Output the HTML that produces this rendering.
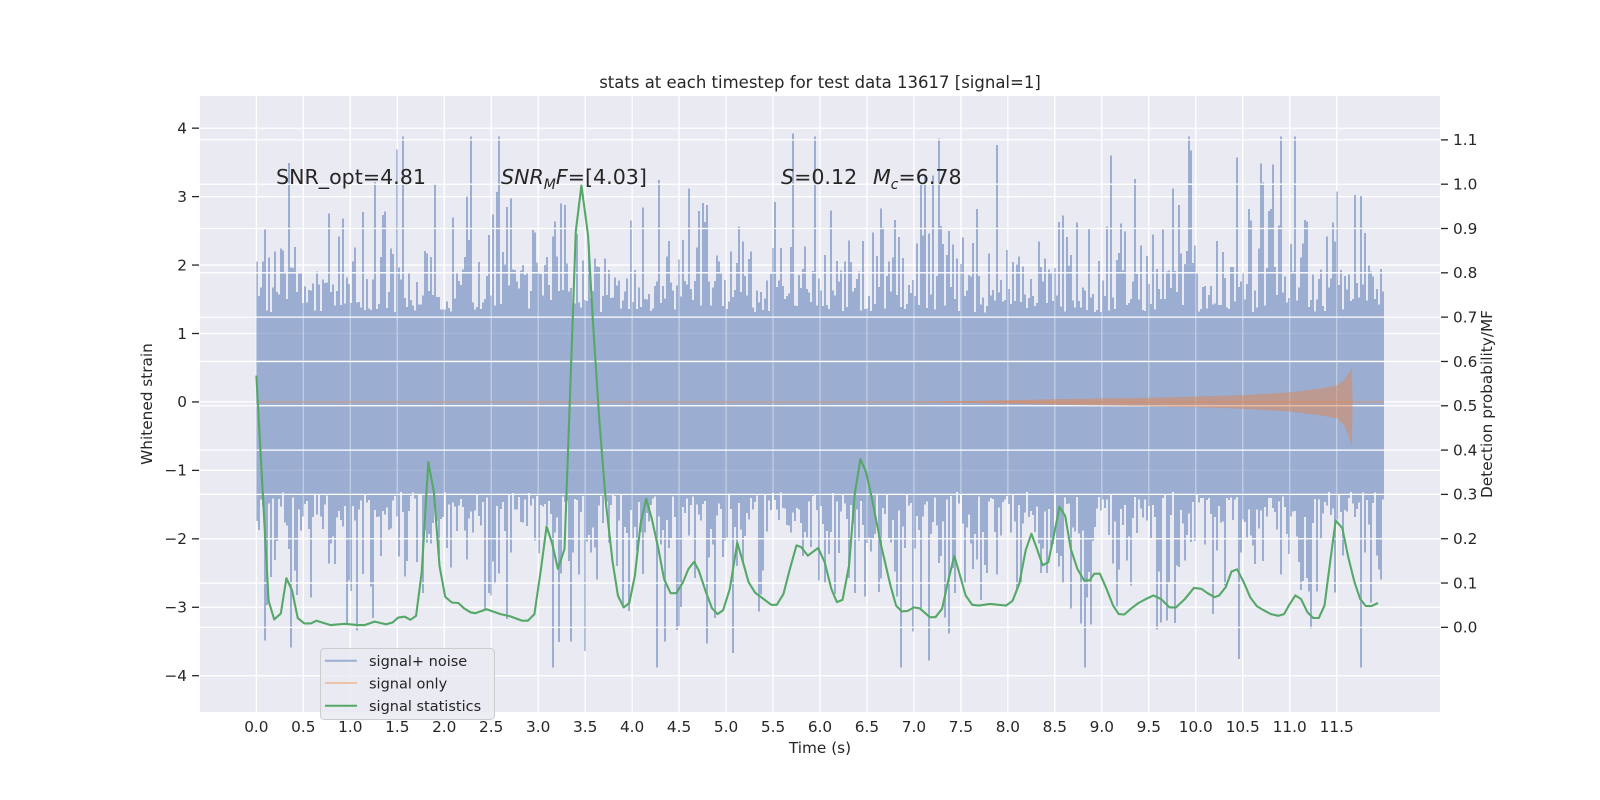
<!DOCTYPE html>
<html><head><meta charset="utf-8"><title>stats at each timestep</title>
<style>
html,body{margin:0;padding:0;background:#fff;}
svg{display:block;font-family:"DejaVu Sans","Liberation Sans",sans-serif;}
</style></head>
<body>
<svg id="chart" width="1600" height="800" viewBox="0 0 1600 800" xmlns="http://www.w3.org/2000/svg">
<rect x="0" y="0" width="1600" height="800" fill="#ffffff"/>
<rect x="200" y="96" width="1240" height="616" fill="#eaeaf2"/>
<g id="gridBelow"></g>
<g id="noise"></g>
<g id="gridAbove"></g>
<g id="signal"></g>
<g id="stats"></g>
<g id="axes"></g>
<text x="820" y="88" text-anchor="middle" font-size="16.5" fill="#262626">stats at each timestep for test data 13617 [signal=1]</text>
<text x="276" y="184" font-size="20.6" fill="#262626">SNR_opt=4.81</text>
<text x="501" y="184" font-size="20.6" fill="#262626"><tspan font-style="italic">SNR</tspan><tspan font-style="italic" font-size="14" dy="5">M</tspan><tspan font-style="italic" dy="-5">F</tspan>=[4.03]</text>
<text x="781" y="184" font-size="20.6" fill="#262626"><tspan font-style="italic">S</tspan>=0.12<tspan x="873" font-style="italic">M</tspan><tspan font-style="italic" font-size="14" dy="5">c</tspan><tspan dy="-5">=6.78</tspan></text>
<text transform="translate(152,404) rotate(-90)" text-anchor="middle" font-size="15.3" fill="#262626">Whitened strain</text>
<text transform="translate(1492,404) rotate(-90)" text-anchor="middle" font-size="15.3" fill="#262626">Detection probability/MF</text>
<text x="820" y="753" text-anchor="middle" font-size="15.3" fill="#262626">Time (s)</text>
<g>
<rect x="320.5" y="648.5" width="174" height="71" rx="4" fill="#eaeaf2" fill-opacity="0.85" stroke="#cccccc" stroke-width="1"/>
<line x1="325" y1="660.7" x2="357" y2="660.7" stroke="#9baed1" stroke-width="2"/>
<text x="369" y="666" font-size="14.5" fill="#262626">signal+ noise</text>
<line x1="325" y1="683" x2="357" y2="683" stroke="#eec2a8" stroke-width="2"/>
<text x="369" y="688.3" font-size="14.5" fill="#262626">signal only</text>
<line x1="325" y1="705.7" x2="357" y2="705.7" stroke="#55a868" stroke-width="2"/>
<text x="369" y="711" font-size="14.5" fill="#262626">signal statistics</text>
</g>
</svg>
<script>
// ---- data ----
const statTimes = [0.00,0.13,0.19,0.26,0.32,0.38,0.44,0.51,0.58,0.64,0.79,0.94,1.08,1.15,1.26,1.38,1.45,1.51,1.58,1.64,1.70,1.76,1.83,1.89,1.95,2.01,2.08,2.15,2.21,2.28,2.33,2.45,2.60,2.70,2.83,2.89,2.96,3.03,3.09,3.15,3.21,3.28,3.33,3.40,3.46,3.53,3.58,3.65,3.72,3.79,3.85,3.91,3.97,4.03,4.09,4.15,4.21,4.28,4.34,4.41,4.47,4.54,4.60,4.66,4.71,4.78,4.85,4.91,4.97,5.04,5.12,5.18,5.24,5.31,5.40,5.48,5.54,5.61,5.68,5.75,5.80,5.87,5.98,6.05,6.12,6.18,6.24,6.31,6.37,6.43,6.49,6.56,6.65,6.75,6.81,6.87,6.93,7.00,7.06,7.11,7.17,7.23,7.30,7.37,7.43,7.48,7.55,7.62,7.69,7.81,7.90,7.98,8.05,8.12,8.19,8.25,8.31,8.37,8.43,8.49,8.55,8.61,8.67,8.74,8.81,8.87,8.92,8.98,9.05,9.12,9.18,9.24,9.31,9.39,9.47,9.55,9.63,9.72,9.79,9.88,9.98,10.06,10.12,10.20,10.25,10.32,10.38,10.44,10.51,10.58,10.65,10.72,10.80,10.88,10.94,10.99,11.06,11.12,11.19,11.25,11.31,11.37,11.43,11.49,11.56,11.62,11.69,11.75,11.81,11.87,11.94];
const statValues = [0.568,0.060,0.018,0.031,0.111,0.083,0.021,0.009,0.009,0.015,0.005,0.008,0.005,0.005,0.013,0.007,0.011,0.022,0.024,0.017,0.026,0.124,0.373,0.305,0.139,0.069,0.056,0.055,0.043,0.034,0.032,0.041,0.030,0.025,0.015,0.015,0.030,0.132,0.228,0.188,0.132,0.177,0.471,0.894,0.997,0.886,0.698,0.471,0.283,0.151,0.071,0.045,0.055,0.117,0.234,0.290,0.245,0.177,0.109,0.077,0.077,0.101,0.132,0.148,0.128,0.083,0.043,0.030,0.039,0.087,0.191,0.147,0.102,0.078,0.064,0.051,0.051,0.075,0.132,0.185,0.181,0.162,0.179,0.147,0.087,0.057,0.062,0.140,0.302,0.380,0.351,0.283,0.185,0.094,0.049,0.036,0.037,0.045,0.043,0.034,0.023,0.023,0.042,0.110,0.161,0.125,0.072,0.051,0.049,0.053,0.051,0.049,0.060,0.098,0.174,0.211,0.177,0.140,0.147,0.208,0.272,0.251,0.177,0.132,0.106,0.106,0.121,0.121,0.087,0.049,0.030,0.029,0.042,0.055,0.064,0.072,0.064,0.045,0.045,0.063,0.089,0.087,0.078,0.068,0.072,0.091,0.126,0.131,0.102,0.068,0.048,0.039,0.030,0.026,0.030,0.049,0.072,0.064,0.034,0.021,0.021,0.049,0.147,0.241,0.224,0.162,0.102,0.064,0.048,0.048,0.055];
const chirpTimes = [7.0,7.5,8.0,8.5,9.0,9.5,10.0,10.5,11.0,11.3,11.5,11.58,11.63,11.66,11.67];
const chirpUpper = [0.003,0.012,0.025,0.04,0.052,0.062,0.078,0.1,0.14,0.19,0.24,0.32,0.42,0.49,0.0];
const chirpLower = [-0.003,-0.012,-0.025,-0.04,-0.052,-0.062,-0.078,-0.1,-0.14,-0.19,-0.24,-0.34,-0.5,-0.65,0.0];
const leftTicks = [-4,-3,-2,-1,0,1,2,3,4];
const rightTicks = [0.0,0.1,0.2,0.3,0.4,0.5,0.6,0.7,0.8,0.9,1.0,1.1];
const xTicks = [0.0,0.5,1.0,1.5,2.0,2.5,3.0,3.5,4.0,4.5,5.0,5.5,6.0,6.5,7.0,7.5,8.0,8.5,9.0,9.5,10.0,10.5,11.0,11.5];
const noiseDuration = 12.0;

// ---- scales ----
const X0 = 200, X1 = 1440, Y0 = 96, Y1 = 712;
const xMin = -0.6, xMax = 12.6;
const lMin = -4.53, lMax = 4.47;
const rMin = -0.191, rMax = 1.199;
function xS(t){ return X0 + (t - xMin) / (xMax - xMin) * (X1 - X0); }
function yL(v){ return Y1 - (v - lMin) / (lMax - lMin) * (Y1 - Y0); }
function yR(v){ return Y1 - (v - rMin) / (rMax - rMin) * (Y1 - Y0); }
const NS = 'http://www.w3.org/2000/svg';
function mk(tag, attrs, parent){ const e = document.createElementNS(NS, tag); for (const k in attrs) e.setAttribute(k, attrs[k]); parent.appendChild(e); return e; }

const gBelow = document.getElementById('gridBelow');
const gAbove = document.getElementById('gridAbove');
const gAxes = document.getElementById('axes');

leftTicks.forEach(v => {
  const l = mk('line', {x1:X0, x2:X1, y1:yL(v), y2:yL(v), stroke:'#ffffff', 'stroke-width':1.3}, gBelow);
  
  
});
xTicks.forEach(t => {
  const l = mk('line', {x1:xS(t), x2:xS(t), y1:Y0, y2:Y1, stroke:'#ffffff', 'stroke-width':1.3}, gBelow);
  
  
});

// noise texture (deterministic hash; noise cannot be read sample-by-sample)
let seed = 13617;
function rnd(){ seed = (seed * 1103515245 + 12345) & 0x7fffffff; return (seed + 0.5) / 2147483648; }
let d = '';
const nx0 = Math.round(xS(0)), nx1 = Math.round(xS(noiseDuration));
for (let x = nx0; x < nx1; x += 2) {
  let up = 1.28 + Math.min(2.6, 0.03 + 0.6 * -Math.log(rnd()));
  let dn = 1.28 + Math.min(2.6, 0.03 + 0.6 * -Math.log(rnd()));
  if (rnd() < 0.015) up += 0.8 * rnd();
  if (rnd() < 0.015) dn += 0.8 * rnd();
  const w = Math.min(2, nx1 - x);
  d += 'M' + x + ' ' + yL(up).toFixed(1) + 'h' + w + 'V' + yL(-dn).toFixed(1) + 'h-' + w + 'Z';
}
const np = mk('path', {d:d, fill:'#4c72b0', 'fill-opacity':0.5, 'shape-rendering':'crispEdges'}, document.getElementById('noise'));



xTicks.forEach(t => {
  const l = mk('line', {x1:xS(t), x2:xS(t), y1:Y0, y2:Y1, stroke:'#ffffff', 'stroke-opacity':0.3, 'stroke-width':1.3}, gAbove);
  
  
});
rightTicks.forEach(v => {
  const l = mk('line', {x1:X0, x2:X1, y1:yR(v), y2:yR(v), stroke:'#ffffff', 'stroke-width':1.3}, gAbove);
  
  
});

const sg = document.getElementById('signal');
const zl = mk('line', {x1:xS(0), x2:xS(noiseDuration), y1:yL(0), y2:yL(0), stroke:'#dd8452', 'stroke-opacity':0.5, 'stroke-width':1.5}, sg);


let cp = '';
chirpTimes.forEach((t,i) => { cp += (i ? 'L' : 'M') + xS(t).toFixed(1) + ' ' + yL(chirpUpper[i]).toFixed(1); });
for (let i = chirpTimes.length - 1; i >= 0; i--) cp += 'L' + xS(chirpTimes[i]).toFixed(1) + ' ' + yL(chirpLower[i]).toFixed(1);
cp += 'Z';
const ch = mk('path', {d:cp, fill:'#dd8452', 'fill-opacity':0.5}, sg);



let sp = '';
statTimes.forEach((t,i) => { sp += (i ? 'L' : 'M') + xS(t).toFixed(1) + ' ' + yR(statValues[i]).toFixed(1); });
const sl = mk('path', {d:sp, fill:'none', stroke:'#55a868', 'stroke-width':2.1, 'stroke-linejoin':'round'}, document.getElementById('stats'));



function fmtMinus(s){ return s.replace('-', '\u2212'); }
leftTicks.forEach(v => {
  const tm = mk('line', {x1:192, x2:199, y1:yL(v), y2:yL(v), stroke:'#262626', 'stroke-width':1.3}, gAxes);
  
  
  const tx = mk('text', {x:187, y:yL(v) + 5.3, 'text-anchor':'end', 'font-size':15.3, fill:'#262626'}, gAxes);
  tx.textContent = fmtMinus(String(v));
  
  
});
rightTicks.forEach(v => {
  const tm = mk('line', {x1:1441, x2:1448, y1:yR(v), y2:yR(v), stroke:'#262626', 'stroke-width':1.3}, gAxes);
  
  
  const tx = mk('text', {x:1453, y:yR(v) + 5.3, 'font-size':15.3, fill:'#262626'}, gAxes);
  tx.textContent = v.toFixed(1);
  
  
});
xTicks.forEach(t => {
  const tx = mk('text', {x:xS(t), y:732, 'text-anchor':'middle', 'font-size':15.3, fill:'#262626'}, gAxes);
  tx.textContent = t.toFixed(1);
  
  
});
</script>
</body></html>
